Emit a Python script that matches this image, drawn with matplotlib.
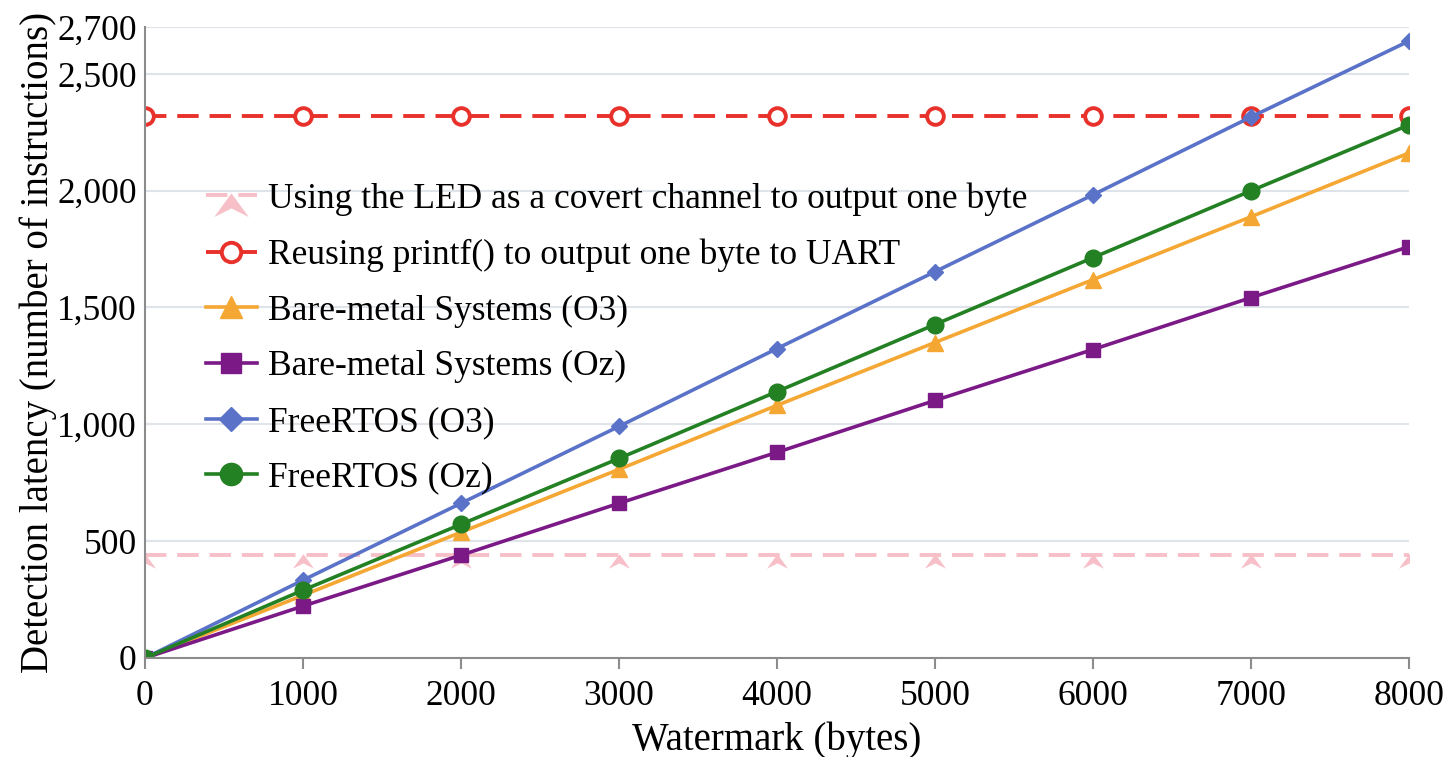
import numpy as np
import matplotlib
matplotlib.use("Agg")
import matplotlib.pyplot as plt
from matplotlib.path import Path

plt.rcParams["font.family"] = ["Liberation Serif", "DejaVu Serif"]

watermark = [0, 1000, 2000, 3000, 4000, 5000, 6000, 7000, 8000]
led_channel = [440] * 9
printf_uart = [2320] * 9
bare_o3 = [0, 268, 538, 807, 1081, 1350, 1619, 1888, 2161]
bare_oz = [0, 222, 440, 662, 880, 1102, 1320, 1542, 1760]
freertos_o3 = [0, 333, 662, 991, 1324, 1653, 1982, 2315, 2640]
freertos_oz = [0, 290, 572, 854, 1140, 1427, 1713, 1999, 2281]

labels = [
    "Using the LED as a covert channel to output one byte",
    "Reusing printf() to output one byte to UART",
    "Bare-metal Systems (O3)",
    "Bare-metal Systems (Oz)",
    "FreeRTOS (O3)",
    "FreeRTOS (Oz)",
]
yticks = [0, 500, 1000, 1500, 2000, 2500, 2700]

# arrowhead marker hanging just under the line
arrow = Path([(0, 0.1), (0.8, -1.0), (0, -0.6), (-0.8, -1.0), (0, 0.1)],
             [Path.MOVETO, Path.LINETO, Path.LINETO, Path.LINETO, Path.CLOSEPOLY])

fig = plt.figure(figsize=(14.47, 7.57), dpi=100)
ax = fig.add_axes([0.1002, 0.1308, 0.8735, 0.8335])

dash = (0, (5.5, 2.8))
ax.plot(watermark, led_channel, color="#f7bfc8", linestyle=dash, lw=2.8,
        marker=arrow, markersize=19, markeredgewidth=0, label=labels[0])
ax.plot(watermark, printf_uart, color="#e8312a", linestyle=dash, lw=2.8,
        marker="o", markersize=12, markerfacecolor="white", markeredgewidth=2.8, label=labels[1])
ax.plot(watermark, bare_o3, color="#f5a733", lw=2.6, marker="^", markersize=11, label=labels[2])
ax.plot(watermark, bare_oz, color="#7b1a87", lw=2.6, marker="s", markersize=10.5, label=labels[3])
ax.plot(watermark, freertos_o3, color="#5a73c8", lw=2.6, marker="D", markersize=8.5, label=labels[4])
ax.plot(watermark, freertos_oz, color="#238023", lw=2.6, marker="o", markersize=12, label=labels[5])

ax.set_xlim(0, 8000)
ax.set_ylim(0, 2700)
ax.set_xticks(watermark)
ax.set_yticks(yticks)
ax.set_yticklabels([f"{v:,}" for v in yticks])
ax.tick_params(axis="both", labelsize=25.5)
ax.tick_params(axis="y", length=0, pad=6)
ax.tick_params(axis="x", length=8, width=1.5, color="#8c8c8c", pad=8)
ax.grid(axis="y", color="#dfe3ea", lw=1.5)
ax.set_axisbelow(True)
for side in ["top", "right"]:
    ax.spines[side].set_visible(False)
for side in ["left", "bottom"]:
    ax.spines[side].set_color("#8c8c8c")
    ax.spines[side].set_linewidth(1.5)
for lbl in ax.get_xticklabels():
    lbl.set_clip_on(False)

ax.set_xlabel("Watermark (bytes)", fontsize=28, labelpad=6)
ax.set_ylabel("Detection latency (number of instructions)", fontsize=28, labelpad=0)

leg = ax.legend(loc="upper left", bbox_to_anchor=(0.034, 0.782), frameon=False, fontsize=25.5,
                handlelength=1.45, handletextpad=0.3, labelspacing=0.64, borderaxespad=0.3,
                borderpad=0.2)
# legend markers are drawn larger than the ones on the lines
for handle, size in zip(leg.legend_handles, [31, 14, 16, 15, 12.5, 16]):
    handle.set_markersize(size)

fig.savefig("out.png", dpi=100)
